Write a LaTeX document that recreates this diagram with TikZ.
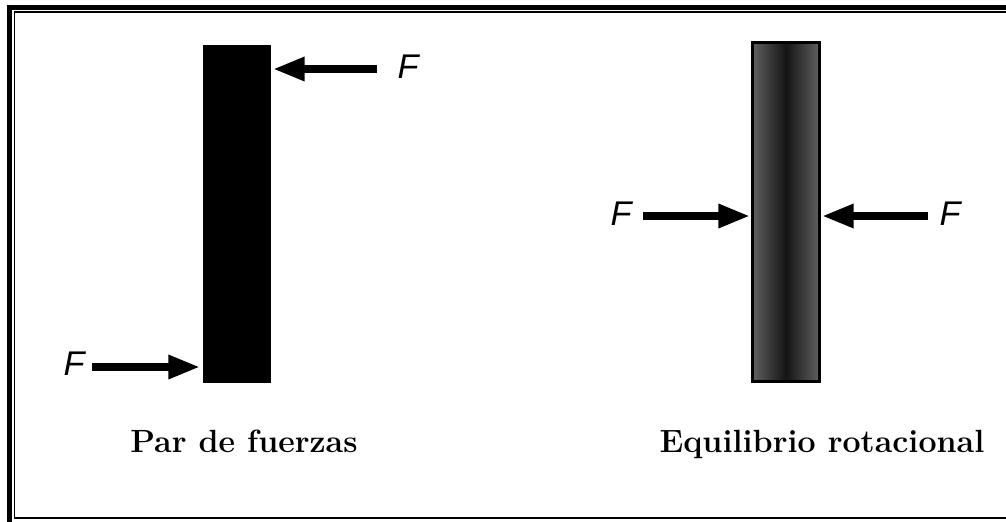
\documentclass[tikz,border=0pt]{standalone}
\usepackage{fontspec}
\newfontfamily\forcefont{Liberation Sans}
\usetikzlibrary{arrows.meta}

\tikzset{
  force/.style={line width=4.3pt, -{Triangle[length=18pt,width=12.8pt]}},
  flabel/.style={font=\forcefont\itshape\fontsize{19.5}{20}\selectfont, inner sep=0pt},
  caption/.style={font=\bfseries\fontsize{18.3}{20}\selectfont, inner sep=0pt, anchor=base},
}

\begin{document}
\begin{tikzpicture}[x=0.02cm, y=-0.02cm]
\useasboundingbox (0,0) rectangle (1006,521);
\fill[white] (0,0) rectangle (1006,521);
\clip (0,0) rectangle (1006,521);

% frame
\draw[line width=2.8pt] (9.5,7.3) rectangle (1030,540);
\draw[line width=1.1pt] (14.5,12.3) rectangle (1011,517.8);

% couple of forces
\fill[black] (203,45) rectangle (271,383);
\coordinate (s1) at (377,69);
\coordinate (t1) at (273,69);
\coordinate (s2) at (92,367);
\coordinate (t2) at (200,367);
\draw[force] (s1) -- (t1);
\draw[force] (s2) -- (t2);
\node[flabel] (F1) at (408,67) {F};
\node[flabel] (F2) at (74,364) {F};
\node[caption] (cap1) at (244,452) {Par de fuerzas};

% rotational equilibrium
\shade[left color=black!62, right color=black!62, middle color=black!92] (752,42) rectangle (820,382);
\draw[line width=1.2pt] (752.5,42.5) rectangle (819.5,381.5);
\coordinate (s3) at (643,216);
\coordinate (t3) at (750,216);
\coordinate (s4) at (928,216);
\coordinate (t4) at (822,216);
\draw[force] (s3) -- (t3);
\draw[force] (s4) -- (t4);
\node[flabel] (F3) at (621,214) {F};
\node[flabel] (F4) at (950,214) {F};
\node[caption] (cap2) at (822,452) {Equilibrio rotacional};
\end{tikzpicture}
\end{document}
